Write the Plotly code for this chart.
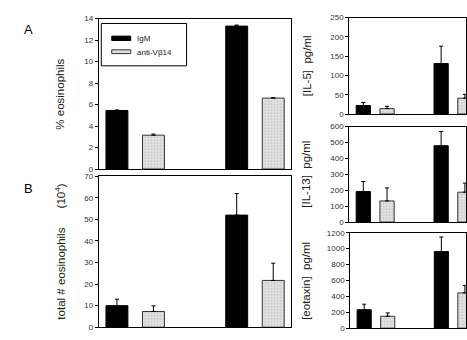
import plotly.graph_objects as go

W, H = 467, 340

groups = ["group 1", "group 2"]
series_names = ["IgM", "anti-V\u03b214"]

pct_eos_igm = [5.45, 13.3]
pct_eos_igm_err = [0.05, 0.1]
pct_eos_anti = [3.15, 6.6]
pct_eos_anti_err = [0.1, 0.05]

tot_eos_igm = [10, 52]
tot_eos_igm_err = [3, 10]
tot_eos_anti = [7.3, 21.7]
tot_eos_anti_err = [2.6, 8]

il5_igm = [22, 131]
il5_igm_err = [8, 45]
il5_anti = [14, 41]
il5_anti_err = [6, 10]

il13_igm = [192, 480]
il13_igm_err = [63, 90]
il13_anti = [133, 188]
il13_anti_err = [82, 57]

eot_igm = [232, 963]
eot_igm_err = [70, 184]
eot_anti = [150, 444]
eot_anti_err = [42, 94]

panels = [
    # (igm, igm_err, anti, anti_err, ytick values)
    (pct_eos_igm, pct_eos_igm_err, pct_eos_anti, pct_eos_anti_err, list(range(0, 15, 2))),
    (tot_eos_igm, tot_eos_igm_err, tot_eos_anti, tot_eos_anti_err, list(range(0, 71, 10))),
    (il5_igm, il5_igm_err, il5_anti, il5_anti_err, list(range(0, 251, 50))),
    (il13_igm, il13_igm_err, il13_anti, il13_anti_err, list(range(0, 601, 100))),
    (eot_igm, eot_igm_err, eot_anti, eot_anti_err, list(range(0, 1201, 200))),
]
y_titles = ["% eosinophils", "total # eosinophils      (10<sup>4</sup>)",
            "[IL-5]  pg/ml", "[IL-13]  pg/ml", "[eotaxin]  pg/ml"]


def px(x):
    return x / W


def py(y):
    return 1 - y / H


# pixel boxes: (left, right, top, bottom)
boxes = [
    (99, 292, 15, 169.5),
    (99, 292, 177, 332),
    (350, 467, 14, 113),
    (350, 467, 126, 224),
    (351, 467, 235, 333),
]
xranges = [[-0.304, 1.304], [-0.304, 1.304], [-0.333, 1.167], [-0.333, 1.167], [-0.333, 1.167]]

fig = go.Figure()
layout = dict(
    width=W, height=H, margin=dict(l=0, r=0, t=0, b=0),
    paper_bgcolor="white", plot_bgcolor="white",
    barmode="group", bargap=0.39, bargroupgap=0.4,
    showlegend=False,
    font=dict(family="Liberation Sans, Arial, sans-serif", color="#222"),
)

annotations = []
shapes = []
for i, (igm, igm_e, anti, anti_e, yt) in enumerate(panels):
    n = "" if i == 0 else str(i + 1)
    xa, ya = "x" + n, "y" + n
    fig.add_trace(go.Bar(
        x=groups, y=igm, name=series_names[0], xaxis=xa, yaxis=ya,
        marker=dict(color="black", line=dict(color="black", width=1)),
        error_y=dict(type="data", symmetric=False, array=igm_e,
                     arrayminus=[0] * len(igm_e), color="black", thickness=1, width=2),
    ))
    fig.add_trace(go.Bar(
        x=groups, y=anti, name=series_names[1], xaxis=xa, yaxis=ya,
        marker=dict(color="#dcdcdc", line=dict(color="#333", width=1),
                    pattern=dict(shape=".", fgcolor="#9a9a9a", bgcolor="#e2e2e2",
                                 size=3, solidity=0.25)),
        error_y=dict(type="data", symmetric=False, array=anti_e,
                     arrayminus=[0] * len(anti_e), color="black", thickness=1, width=2),
    ))
    l, r, t, b = boxes[i]
    layout["xaxis" + n] = dict(
        domain=[px(l), px(r)], anchor=ya, type="category", range=xranges[i],
        showticklabels=False, ticks="", showgrid=False, zeroline=False,
        showline=True, linecolor="black", linewidth=1, mirror=True,
    )
    layout["yaxis" + n] = dict(
        domain=[py(b), py(t)], anchor=xa, range=[0, yt[-1]],
        tickvals=yt, ticks="outside", ticklen=3, tickcolor="black",
        tickfont=dict(size=8, color="#333"), showgrid=False, zeroline=False,
        showline=True, linecolor="black", linewidth=1, mirror=True,
    )
    tx = 60 if i < 2 else 307
    annotations.append(dict(
        text=y_titles[i], x=px(tx), y=py((t + b) / 2), xref="paper", yref="paper",
        textangle=-90, showarrow=False, font=dict(size=11.5, color="#222"),
        xanchor="center", yanchor="middle",
    ))

# panel letters
annotations.append(dict(text="A", x=px(29), y=py(26), xref="paper", yref="paper",
                        xanchor="center", yanchor="middle",
                        showarrow=False, font=dict(size=13, color="black")))
annotations.append(dict(text="B", x=px(29), y=py(190), xref="paper", yref="paper",
                        xanchor="center", yanchor="middle",
                        showarrow=False, font=dict(size=13, color="black")))

# legend box (drawn manually)
shapes.append(dict(type="rect", xref="paper", yref="paper", x0=px(101.5), x1=px(187),
                   y0=py(63.5), y1=py(20), line=dict(color="black", width=1),
                   fillcolor="white", layer="above"))
shapes.append(dict(type="rect", xref="paper", yref="paper", x0=px(112), x1=px(131),
                   y0=py(37.5), y1=py(33), line=dict(color="black", width=1),
                   fillcolor="black", layer="above"))
shapes.append(dict(type="rect", xref="paper", yref="paper", x0=px(112), x1=px(131),
                   y0=py(51), y1=py(47), line=dict(color="#333", width=1),
                   fillcolor="#dcdcdc", layer="above"))
annotations.append(dict(text=series_names[0], x=px(135), y=py(35.5), xref="paper", yref="paper",
                        showarrow=False, xanchor="left", yanchor="middle",
                        font=dict(size=8, color="#222")))
annotations.append(dict(text=series_names[1], x=px(135), y=py(49.5), xref="paper", yref="paper",
                        showarrow=False, xanchor="left", yanchor="middle",
                        font=dict(size=8, color="#222")))

layout["annotations"] = annotations
layout["shapes"] = shapes
fig.update_layout(**layout)
fig.write_html("out.html")
